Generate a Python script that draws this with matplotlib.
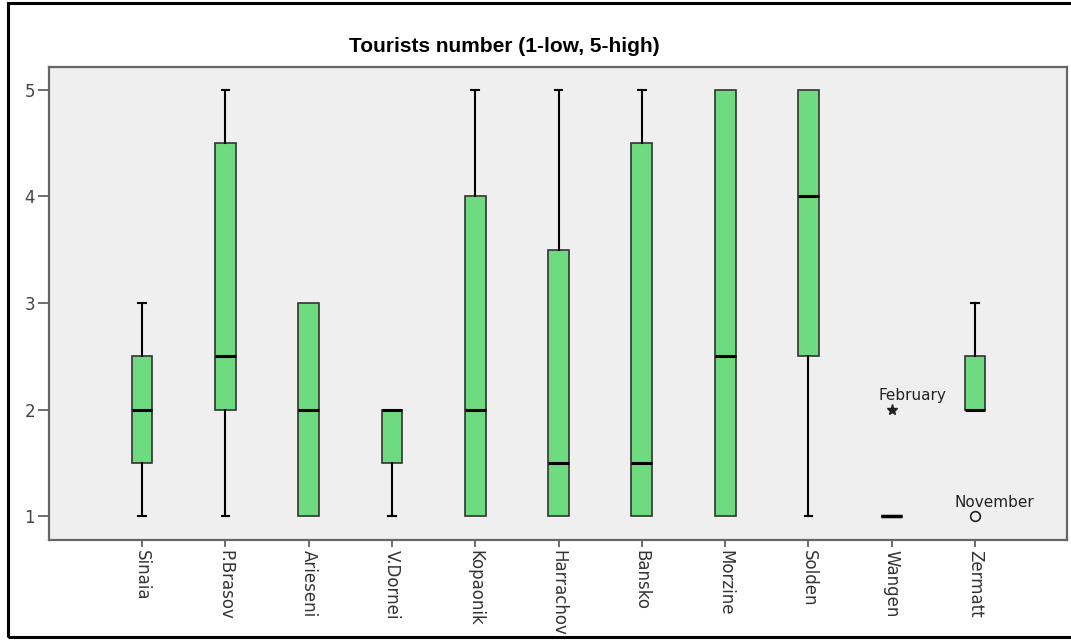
import matplotlib
matplotlib.use("Agg")
import matplotlib.pyplot as plt
from matplotlib.patches import Rectangle

# ── data ──────────────────────────────────────────────────────────────────────
resorts = ["Sinaia", "P.Brasov", "Arieseni", "V.Dornei", "Kopaonik", "Harrachov",
           "Bansko", "Morzine", "Solden", "Wangen", "Zermatt"]
whis_low = [1.0, 1.0, 1.0, 1.0, 1.0, 1.0, 1.0, 1.0, 1.0, 1.0, 2.0]
q1       = [1.5, 2.0, 1.0, 1.5, 1.0, 1.0, 1.0, 1.0, 2.5, 1.0, 2.0]
median   = [2.0, 2.5, 2.0, 2.0, 2.0, 1.5, 1.5, 2.5, 4.0, 1.0, 2.0]
q3       = [2.5, 4.5, 3.0, 2.0, 4.0, 3.5, 4.5, 5.0, 5.0, 1.0, 2.5]
whis_high = [3.0, 5.0, 3.0, 2.0, 5.0, 5.0, 5.0, 5.0, 5.0, 1.0, 3.0]

# outliers: (resort index, value, label)
extreme_idx, extreme_val, extreme_lbl = 9, 2.0, "February"
outlier_idx, outlier_val, outlier_lbl = 10, 1.0, "November"

y_ticks = [1, 2, 3, 4, 5]
title = "Tourists number (1-low, 5-high)"

BOX_GREEN = "#6edb80"
PANEL_BG  = "#efefef"

fig = plt.figure(figsize=(10.71, 6.41), dpi=100)
ax = fig.add_axes([0.0458, 0.1576, 0.9505, 0.7379])
ax.set_facecolor(PANEL_BG)

stats = []
for i, name in enumerate(resorts):
    stats.append({"label": name, "whislo": whis_low[i], "q1": q1[i], "med": median[i],
                  "q3": q3[i], "whishi": whis_high[i], "fliers": []})

positions = list(range(len(resorts)))
parts = ax.bxp(stats, positions=positions, widths=0.25, capwidths=0.09,
               showfliers=False, patch_artist=True,
               boxprops=dict(facecolor=BOX_GREEN, edgecolor="#333333", linewidth=1.2),
               medianprops=dict(color="black", linewidth=2.2, solid_capstyle="butt"),
               whiskerprops=dict(color="black", linewidth=1.5),
               capprops=dict(color="black", linewidth=1.5))

# no cap where the whisker ends on the box edge
for i in range(len(resorts)):
    if whis_low[i] == q1[i]:
        parts["caps"][2 * i].set_visible(False)
    if whis_high[i] == q3[i]:
        parts["caps"][2 * i + 1].set_visible(False)

# Wangen has no spread: draw its median stroke across the full box width
ax.plot([9 - 0.125, 9 + 0.125], [median[9], median[9]], color="black",
        linewidth=2.5, solid_capstyle="butt", zorder=4)

# extreme value (star) and outlier (circle)
ax.plot(extreme_idx, extreme_val, marker="*", markersize=8, color="#222222",
        linestyle="none", zorder=5)
ax.annotate(extreme_lbl, (extreme_idx, extreme_val), xytext=(15, 10),
            textcoords="offset points", ha="center", va="center",
            fontsize=11, color="#222222", family="DejaVu Sans")
ax.plot(outlier_idx, outlier_val, marker="o", markersize=7, markerfacecolor="none",
        markeredgecolor="#222222", markeredgewidth=1.2, linestyle="none", zorder=5)
ax.annotate(outlier_lbl, (outlier_idx, outlier_val), xytext=(14, 10),
            textcoords="offset points", ha="center", va="center",
            fontsize=11, color="#222222", family="DejaVu Sans")

ax.set_xlim(-1.116, 11.104)
ax.set_ylim(0.775, 5.216)
ax.set_xticks(positions)
ax.set_xticklabels(resorts, rotation=270, fontsize=12, family="DejaVu Sans",
                   color="#333333", va="top", ha="center")
ax.set_yticks(y_ticks)
ax.set_yticklabels([str(t) for t in y_ticks], fontsize=12, family="DejaVu Sans",
                   color="#444444")
ax.tick_params(axis="y", direction="out", length=8, width=1.2, color="#555555", pad=2)
ax.tick_params(axis="x", direction="out", length=5, width=1.2, color="#555555", pad=2)
for s in ax.spines.values():
    s.set_color("#666666")
    s.set_linewidth(1.6)

fig.text(504 / 1071, 1 - 47 / 641, title, ha="center", va="center",
         fontsize=15, fontweight="bold", family="Liberation Sans")

# outer frame (left, top, bottom; runs off the right edge)
fig.patches.append(Rectangle((7.5 / 1071, 4 / 641), 1.2, 1 - 7 / 641,
                             transform=fig.transFigure, fill=False,
                             edgecolor="black", linewidth=2.2, zorder=10))

fig.savefig("out.png", dpi=100)
